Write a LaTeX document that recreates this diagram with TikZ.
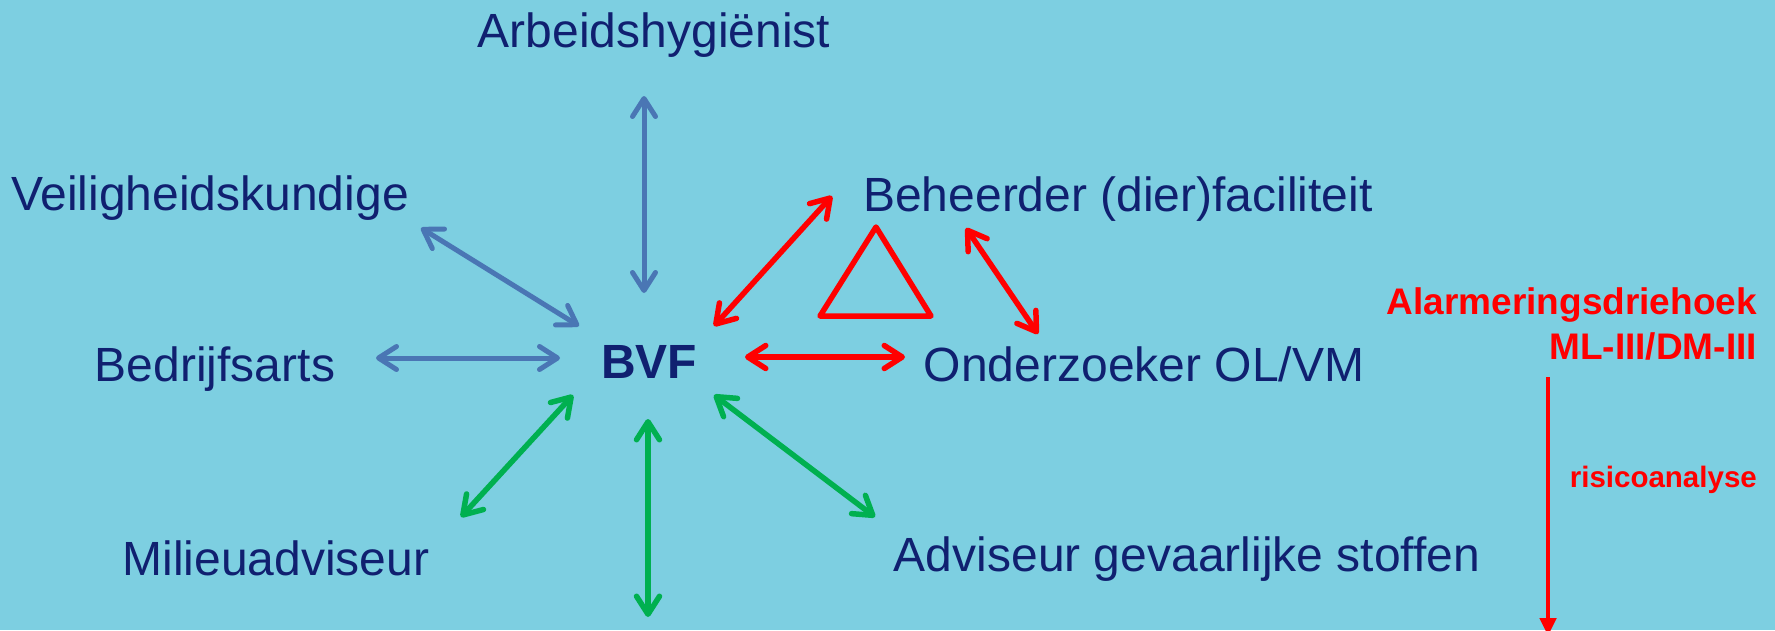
\documentclass[tikz,border=0pt]{standalone}
\usepackage{fontspec}
\setmainfont{Liberation Sans}
\usetikzlibrary{arrows.meta}
\definecolor{bgcyan}{RGB}{125,207,225}
\definecolor{navytext}{RGB}{16,32,112}
\definecolor{arrblue}{RGB}{74,118,180}
\definecolor{arrgreen}{RGB}{0,176,80}
\begin{document}
\begin{tikzpicture}[x=1pt,y=-1pt,
  lbl/.style={inner sep=0pt, anchor=base, text=navytext, font=\fontsize{48}{56}\selectfont},
  alarmlbl/.style={inner sep=0pt, anchor=base east, text=red, font=\fontsize{37}{42}\selectfont\bfseries},
  barb/.style={line width=5.5pt, line cap=round, line join=round, >={Straight Barb[length=18pt,width=23pt,round]}, <->},
  bluearr/.style={barb, line width=5pt, draw=arrblue},
  redarr/.style={barb, draw=red},
  greenarr/.style={barb, draw=arrgreen}]
\fill[bgcyan] (0,0) rectangle (1775,630);
\useasboundingbox (0,0) rectangle (1775,630);
% roles round the BVF
\node[lbl] (arbeid) at (654,47) {Arbeidshygiënist};
\node[lbl] (veilig) at (210,210) {Veiligheidskundige};
\node[lbl] (beheer) at (1118,211) {Beheerder (dier)faciliteit};
\node[lbl] (bedrijf) at (215,381) {Bedrijfsarts};
\node[lbl, font=\fontsize{48}{56}\selectfont\bfseries] (bvf) at (649,378) {BVF};
\node[lbl] (onderz) at (1144,381) {Onderzoeker OL/VM};
\node[lbl] (milieu) at (276,575) {Milieuadviseur};
\node[lbl] (advis) at (1187,571) {Adviseur gevaarlijke stoffen};
% arrow ends
\coordinate (arb-a) at (644,96);   \coordinate (arb-b) at (644,293);
\coordinate (vei-a) at (421,228);  \coordinate (vei-b) at (579,326);
\coordinate (bed-a) at (376,358);  \coordinate (bed-b) at (560,358);
\coordinate (beh-a) at (832,196);  \coordinate (beh-b) at (714,326);
\coordinate (ond-a) at (745,357);  \coordinate (ond-b) at (905,357);
\coordinate (bo-a) at (966,228);   \coordinate (bo-b) at (1038,334);
\coordinate (mil-a) at (573,395);  \coordinate (mil-b) at (461,517);
\coordinate (bot-a) at (648,419);  \coordinate (bot-b) at (648,617);
\coordinate (adv-a) at (714,395);  \coordinate (adv-b) at (875,517);
\draw[bluearr] (arb-a) -- (arb-b);
\draw[bluearr] (vei-a) -- (vei-b);
\draw[bluearr] (bed-a) -- (bed-b);
\draw[redarr] (beh-a) -- (beh-b);
\draw[redarr] (ond-a) -- (ond-b);
\draw[redarr] (bo-a) -- (bo-b);
\draw[greenarr] (mil-a) -- (mil-b);
\draw[greenarr] (bot-a) -- (bot-b);
\draw[greenarr] (adv-a) -- (adv-b);
% triangle
\draw[red, line width=5.5pt, line join=round] (876,227) -- (820,316) -- (931,316) -- cycle;
% alarm side
\node[alarmlbl] (alarm) at (1757,314) {Alarmeringsdriehoek};
\node[alarmlbl] (mliii) at (1757,359) {ML-III/DM-III};
\node[alarmlbl, font=\fontsize{29.5}{34}\selectfont\bfseries] (risico) at (1757,487) {risicoanalyse};
\coordinate (ris-a) at (1548,377); \coordinate (ris-b) at (1548,636);
\draw[red, line width=4.5pt, -{Triangle[length=18pt,width=16pt]}] (ris-a) -- (ris-b);
\end{tikzpicture}
\end{document}
